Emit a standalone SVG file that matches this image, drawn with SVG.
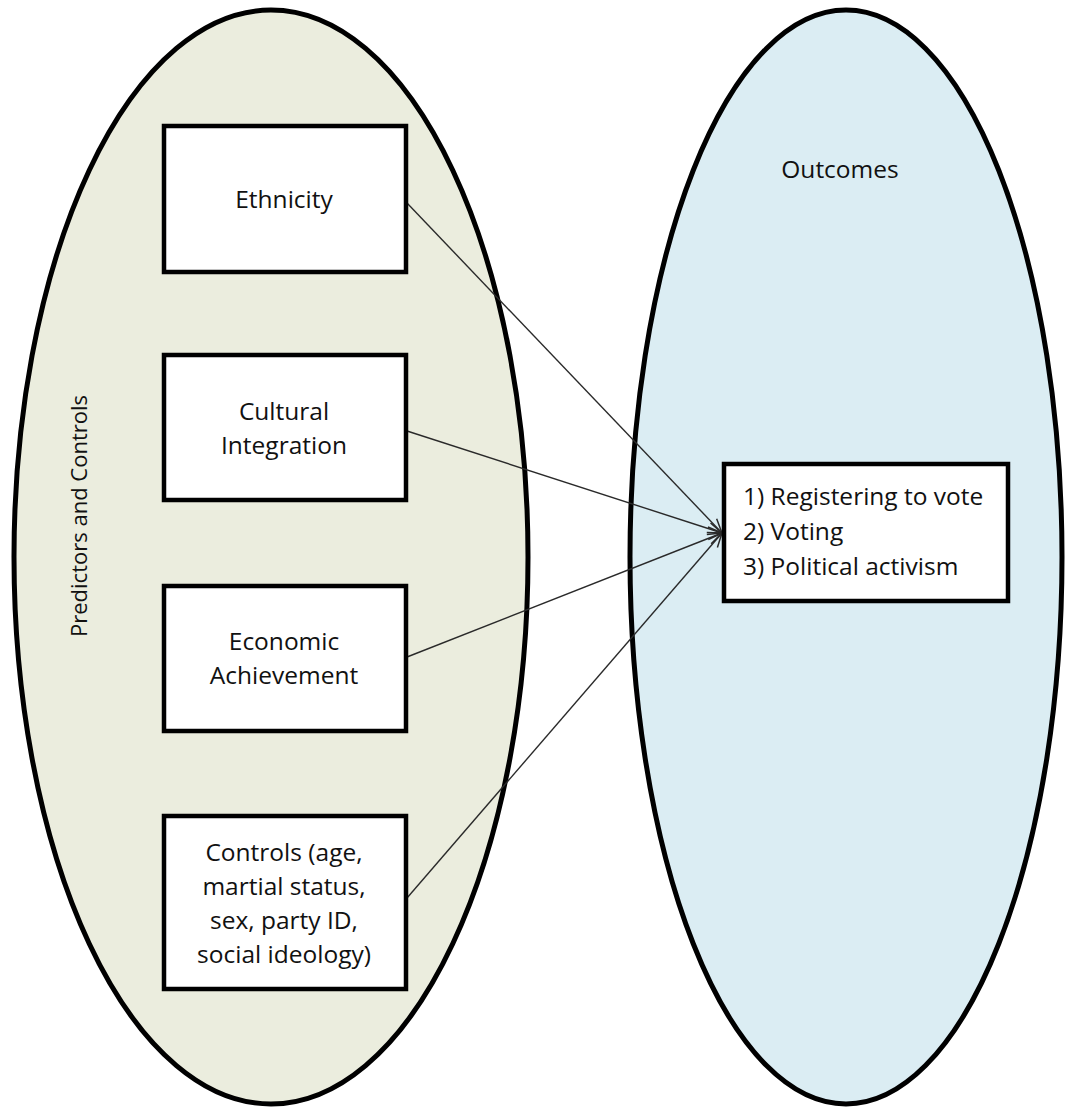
<svg xmlns="http://www.w3.org/2000/svg" width="1074" height="1110" viewBox="0 0 1074 1110">
<style>
.ell{stroke:#000;stroke-width:5}
.box{fill:#fff;stroke:#000;stroke-width:4.5}
.t{font-family:"Open Sans","DejaVu Sans",sans-serif;font-size:24.5px;fill:#111}
.v{font-size:22px}
.c{text-anchor:middle}
.conn{stroke:#2a2a2a;stroke-width:1.4;fill:none;marker-end:url(#arr)}
</style>
<defs>
<marker id="arr" markerUnits="userSpaceOnUse" markerWidth="20" markerHeight="20" refX="15" refY="7" orient="auto" viewBox="0 0 20 14">
<path d="M1,1 L15,7 L1,13" fill="none" stroke="#2a2a2a" stroke-width="1.5"/>
</marker>
</defs>
<rect width="1074" height="1110" fill="#fff"/>
<g id="predictors-group">
<ellipse class="ell" cx="271" cy="557" rx="257" ry="547" fill="#EBEDDE"/>
<text class="t c v" transform="translate(87,516) rotate(-90)">Predictors and Controls</text>
</g>
<g id="outcomes-group">
<ellipse class="ell" cx="846" cy="557" rx="216" ry="547" fill="#DBEDF3"/>
<text class="t c" x="840" y="178">Outcomes</text>
</g>
<g id="connectors">
<line class="conn" x1="407" y1="203" x2="722" y2="533"/>
<line class="conn" x1="407" y1="431" x2="722" y2="533"/>
<line class="conn" x1="407" y1="657" x2="722" y2="533"/>
<line class="conn" x1="407" y1="898" x2="722" y2="533"/>
</g>
<g id="ethnicity">
<rect class="box" x="164" y="126" width="242" height="146"/>
<text class="t c" x="284" y="208">Ethnicity</text>
</g>
<g id="cultural-integration">
<rect class="box" x="164" y="355" width="242" height="145"/>
<text class="t c" x="284" y="420">Cultural</text>
<text class="t c" x="284" y="454">Integration</text>
</g>
<g id="economic-achievement">
<rect class="box" x="164" y="586" width="242" height="145"/>
<text class="t c" x="284" y="650">Economic</text>
<text class="t c" x="284" y="684">Achievement</text>
</g>
<g id="controls">
<rect class="box" x="164" y="816" width="242" height="173"/>
<text class="t c" x="284" y="861">Controls (age,</text>
<text class="t c" x="284" y="895">martial status,</text>
<text class="t c" x="284" y="929">sex, party ID,</text>
<text class="t c" x="284" y="963">social ideology)</text>
</g>
<g id="outcomes-box">
<rect class="box" x="724" y="464" width="284" height="137"/>
<text class="t" x="743" y="505">1) Registering to vote</text>
<text class="t" x="743" y="540">2) Voting</text>
<text class="t" x="743" y="575">3) Political activism</text>
</g>
</svg>
